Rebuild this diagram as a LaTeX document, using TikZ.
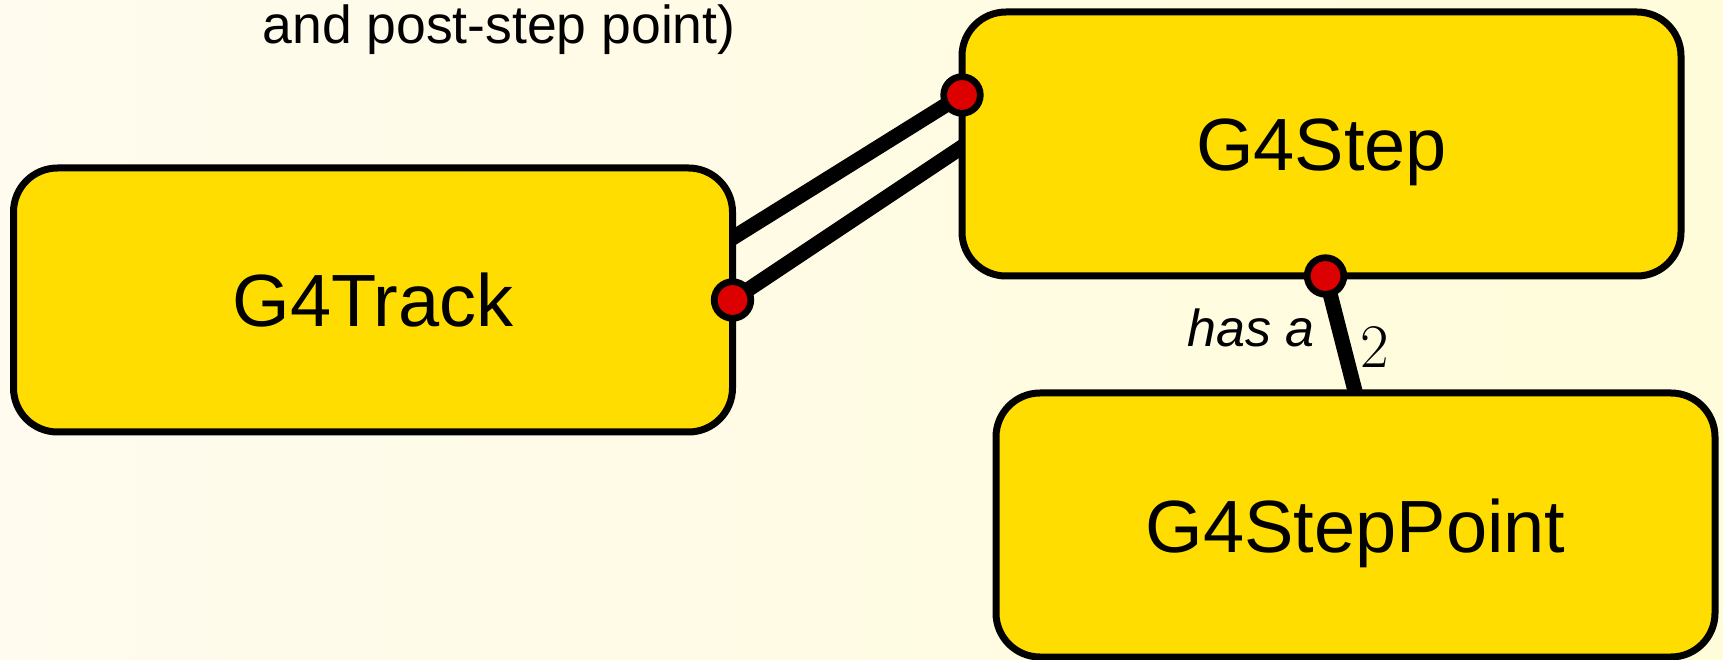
\documentclass[tikz,border=0pt]{standalone}
\usepackage{fontspec}
\setsansfont{Liberation Sans}
\usetikzlibrary{calc}
\definecolor{boxfill}{RGB}{255,221,0}
\definecolor{dotred}{RGB}{221,0,0}
\definecolor{bgl}{RGB}{255,251,238}
\definecolor{bgr}{RGB}{255,252,218}
\pgfdeclarelayer{bg}
\pgfdeclarelayer{conn}
\pgfsetlayers{bg,conn,main}
\begin{document}
\begin{tikzpicture}[x=1pt,y=1pt,
  cls/.style={draw=black, line width=7pt, fill=boxfill, rounded corners=44pt,
    minimum width=719pt, minimum height=264pt, inner sep=0pt, outer sep=0pt,
    text height=54pt, text depth=0pt,
    font=\sffamily\fontsize{74}{88}\selectfont},
  assoc/.style={line width=15pt, draw=black},
  port/.style={circle, draw=black, fill=dotred, line width=6.7pt,
    minimum size=36.6pt, inner sep=0pt},
  lbltext/.style={anchor=base, inner sep=0pt}]
\begin{pgfonlayer}{bg}
\shade[left color=bgl, right color=bgr] (0,0) rectangle (1723,659);
\end{pgfonlayer}
\useasboundingbox (0,0) rectangle (1723,659);
\node[cls] (track) at (373,359) {G4Track};
\node[cls] (step) at (1321.5,515) {G4Step};
\node[cls] (point) at (1355.5,134) {G4StepPoint};
\coordinate (p1) at ($(step.west)+(0,49)$);
\coordinate (p2) at (track.east);
\coordinate (p3) at ($(step.south)+(4,0)$);
\coordinate (e1) at ($(track.east)+(0,62)$);
\coordinate (e2) at ($(step.west)+(0,-3)$);
\begin{pgfonlayer}{conn}
\draw[assoc, shorten <=-15pt] (e1) -- (p1);
\draw[assoc, shorten >=-15pt] (p2) -- (e2);
\draw[assoc, shorten >=-15pt] (p3) -- (point.north);
\end{pgfonlayer}
\node[port] (d1) at (p1) {};
\node[port] (d2) at (p2) {};
\node[port] (d3) at (p3) {};
\node[lbltext, font=\sffamily\itshape\fontsize{52}{60}\selectfont] (hasa) at (1251,312) {has a};
\node[lbltext, font=\fontsize{62}{70}\selectfont] (mult) at (1375,291) {2};
\node[lbltext, font=\sffamily\fontsize{53.5}{62}\selectfont] (note) at (499,615) {and post-step point)};
\end{tikzpicture}
\end{document}
